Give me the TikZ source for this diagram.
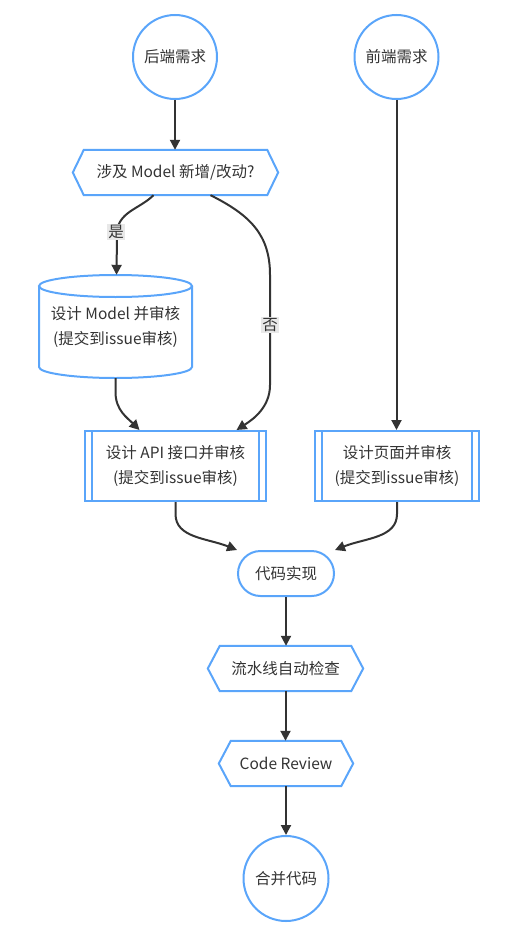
\documentclass[tikz,border=0pt]{standalone}
\usepackage{fontspec}
\setmainfont{Noto Sans CJK SC}
\usetikzlibrary{arrows.meta}
\definecolor{bblue}{RGB}{90,165,250}
\definecolor{tgray}{RGB}{51,51,51}
\definecolor{lgray}{RGB}{232,232,232}
\begin{document}
\begin{tikzpicture}[x=1pt,y=-1pt,
  every node/.style={text=tgray, font=\fontsize{15.5}{25}\selectfont},
  border/.style={draw=bblue, line width=2pt},
  edge/.style={draw=tgray, line width=2pt, -{Triangle[length=10pt,width=10pt]}},
  lbl/.style={fill=lgray, inner sep=1.5pt, font=\fontsize{15.5}{20}\selectfont},
  circ/.style={circle, border, minimum size=84pt, inner sep=0pt},
  box/.style={rectangle, minimum width=#1, minimum height=70pt, inner sep=0pt, align=center, border},
  plain/.style={rectangle, inner sep=0pt, align=center}]
\useasboundingbox (0,0) rectangle (521,947);

% nodes
\node[circ] (be) at (175,57) {后端需求};
\node[circ] (fe) at (396.5,57) {前端需求};

\node[plain, minimum width=205pt, minimum height=45pt] (q) at (175.5,172.5) {涉及 Model 新增/改动?};
\draw[border] (q.west) -- ([xshift=11pt]q.north west) -- ([xshift=-11pt]q.north east) -- (q.east) -- ([xshift=-11pt]q.south east) -- ([xshift=11pt]q.south west) -- cycle;

\node[plain, minimum width=153pt, minimum height=103pt] (m) at (115.5,326.5) {设计 Model 并审核\\(提交到issue审核)};
\draw[border] (115.5,286) ellipse [x radius=76.5pt, y radius=11pt];
\draw[border] (39,286) -- (39,367) arc[start angle=180, end angle=360, x radius=76.5pt, y radius=11pt] -- (192,286);

\node[box=181pt] (api) at (175.5,466) {设计 API 接口并审核\\(提交到issue审核)};
\draw[border] ([xshift=8pt]api.north west) -- ([xshift=8pt]api.south west);
\draw[border] ([xshift=-8pt]api.north east) -- ([xshift=-8pt]api.south east);

\node[box=164pt] (page) at (397,466) {设计页面并审核\\(提交到issue审核)};
\draw[border] ([xshift=8pt]page.north west) -- ([xshift=8pt]page.south west);
\draw[border] ([xshift=-8pt]page.north east) -- ([xshift=-8pt]page.south east);

\node[rectangle, border, rounded corners=22.5pt, minimum width=96pt, minimum height=45pt, inner sep=0pt] (impl) at (286,573.5) {代码实现};

\node[plain, minimum width=155pt, minimum height=45pt] (pipe) at (285.5,668.5) {流水线自动检查};
\draw[border] (pipe.west) -- ([xshift=12pt]pipe.north west) -- ([xshift=-12pt]pipe.north east) -- (pipe.east) -- ([xshift=-12pt]pipe.south east) -- ([xshift=12pt]pipe.south west) -- cycle;

\node[plain, minimum width=134pt, minimum height=45pt] (cr) at (286,763.5) {Code Review};
\draw[border] (cr.west) -- ([xshift=12pt]cr.north west) -- ([xshift=-12pt]cr.north east) -- (cr.east) -- ([xshift=-12pt]cr.south east) -- ([xshift=12pt]cr.south west) -- cycle;

\node[circ, minimum size=85pt] (merge) at (286,878.5) {合并代码};

% edges
\draw[edge] (be.south) -- (be.south |- q.north);
\draw[edge] (fe.south) -- (fe.south |- page.north);
\draw[edge] ([xshift=-22pt]q.south) .. controls +(-14,14) and (117,212) .. (117,234) -- ([xshift=1pt]m.north);
\draw[edge] ([xshift=35pt]q.south) .. controls +(40,20) and (270,235) .. (270,275) -- (270,385) .. controls (270,408) and (252,420) .. ([xshift=61pt]api.north);
\draw[edge] (m.south) -- ++(0,14) .. controls +(0,18) and +(-12,-12) .. ([xshift=-36pt]api.north);
\draw[edge] (api.south) -- ++(0,12) .. controls +(0,24) and +(-30,-12) .. (impl.north west);
\draw[edge] (page.south) -- ++(0,12) .. controls +(0,24) and +(30,-12) .. (impl.north east);
\draw[edge] (impl.south) -- (impl.south |- pipe.north);
\draw[edge] (pipe.south) -- (pipe.south |- cr.north);
\draw[edge] (cr.south) -- (cr.south |- merge.north);

% edge labels
\node[lbl] (yes) at (116,232) {是};
\node[lbl] (no) at (270,325) {否};
\end{tikzpicture}
\end{document}
